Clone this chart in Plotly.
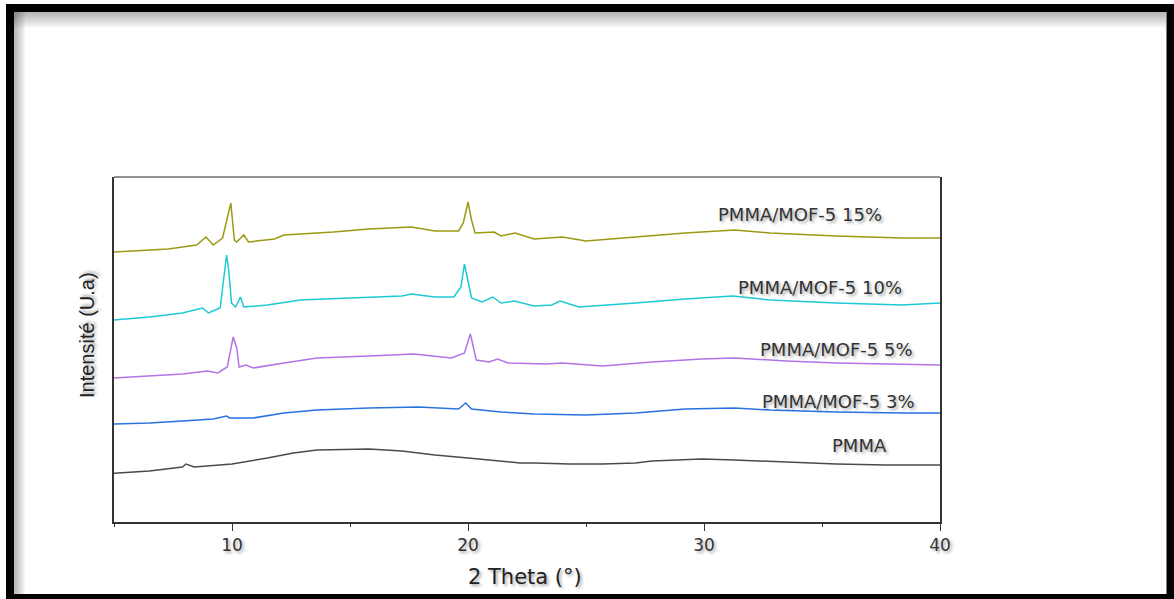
import plotly.graph_objects as go

# ---------------- data ----------------
pmma_x = [5.0, 6.5, 7.9, 8.05, 8.4, 10.0, 11.5, 12.6, 13.6, 15.8, 17.2, 18.6, 20.0, 21.4,
          22.2, 22.8, 24.3, 25.7, 27.1, 27.8, 29.9, 31.3, 33.5, 35.6, 37.7, 40.0]
pmma_y = [48.7, 51, 55, 58, 55, 58, 64, 69, 72, 73, 71, 67, 64, 61,
          59, 59, 58, 58, 59, 61, 63, 62, 60, 58, 57, 57]

m3_x = [5.0, 6.5, 7.9, 9.2, 9.77, 9.9, 10.9, 12.2, 13.6, 15.8, 17.9, 19.6, 19.9, 20.15,
        21.4, 22.8, 25.0, 27.1, 29.2, 31.3, 32.8, 35.6, 38.4, 40.0]
m3_y = [98, 99, 101, 103, 106, 104, 104, 109, 112, 114, 115, 113, 119, 113,
        110, 108, 107, 109, 113, 114, 112, 110, 109, 109]

m5_x = [5.0, 6.5, 7.9, 8.95, 9.4, 9.8, 10.05, 10.2, 10.3, 10.6, 10.9, 12.2, 13.6, 15.8,
        17.7, 19.3, 19.85, 20.1, 20.25, 20.35, 20.9, 21.25, 21.7, 23.3, 24.0, 25.7,
        27.8, 29.9, 31.3, 33.5, 35.6, 37.7, 40.0]
m5_y = [144, 146, 148, 151, 149, 155, 185, 174, 155, 157, 154, 159, 164, 166,
        168, 164, 169, 188, 172, 162, 160, 163, 159, 158, 159, 156,
        160, 163, 164, 161, 159, 158, 157]

m10_x = [5.0, 6.5, 7.9, 8.5, 8.75, 9.0, 9.5, 9.77, 9.86, 9.98, 10.15, 10.36, 10.5, 11.5,
         12.9, 15.0, 17.2, 17.6, 18.6, 19.4, 19.7, 19.85, 20.0, 20.15, 20.6, 21.05,
         21.4, 21.97, 22.8, 23.55, 23.9, 24.7, 27.1, 29.2, 31.2, 32.8, 35.6, 38.4, 40.0]
m10_y = [202, 205, 209, 212, 214, 209, 214, 267, 252, 219, 215, 225, 215, 217,
         222, 224, 226, 228, 225, 225, 235, 258, 242, 224, 220, 225,
         219, 221, 216, 217, 221, 215, 219, 223, 226, 222, 219, 217, 219]

m15_x = [5.0, 6.5, 7.3, 8.5, 8.9, 9.2, 9.6, 9.95, 10.1, 10.2, 10.5, 10.7, 11.8, 12.2,
         14.3, 15.8, 17.6, 18.6, 19.6, 19.8, 20.0, 20.15, 20.3, 21.1, 21.4, 22.0,
         22.8, 24.0, 25.0, 27.1, 29.2, 31.3, 32.8, 35.6, 38.4, 40.0]
m15_y = [270, 272, 273, 277, 285, 277, 284, 319, 282, 280, 287, 280, 283, 287,
         290, 293, 295, 291, 291, 299, 320, 302, 289, 290, 286, 289,
         283, 285, 281, 285, 289, 292, 289, 286, 284, 284]

series_names = ["PMMA", "PMMA/MOF-5 3%", "PMMA/MOF-5 5%", "PMMA/MOF-5 10%", "PMMA/MOF-5 15%"]
series_x = [pmma_x, m3_x, m5_x, m10_x, m15_x]
series_y = [pmma_y, m3_y, m5_y, m10_y, m15_y]
series_colors = ["#4a4a4a", "#2a72e0", "#b473e6", "#1ccad4", "#9c9a12"]

# label anchor points (data coords)
label_x = [36.6, 35.7, 35.6, 34.9, 34.05]
label_y = [77, 121, 173, 235, 308]

x_ticks = [10, 20, 30, 40]
x_title = "2 Theta (°)"
y_title = "Intensité (U.a)"

# ---------------- layout geometry ----------------
W, H = 1174, 599
L, R, T, B = 114, 940, 177, 522


def px2x(px):
    return (px - L) / (R - L)


def py2y(py):
    return (B - py) / (B - T)


fig = go.Figure()
for name, xs, ys, c in zip(series_names, series_x, series_y, series_colors):
    fig.add_trace(go.Scatter(x=xs, y=ys, mode="lines", name=name,
                             line=dict(color=c, width=1.5), showlegend=False))

txt_shadow = "2px 2px 3px rgba(0,0,0,0.35)"
annotations = []
for name, lx, ly in zip(series_names, label_x, label_y):
    annotations.append(dict(x=lx, y=ly, xref="x", yref="y", text=name, showarrow=False,
                            xanchor="center", yanchor="middle",
                            font=dict(family="DejaVu Sans", size=18, color="#333333",
                                      shadow=txt_shadow)))
annotations.append(dict(x=px2x(525), y=py2y(577), xref="paper", yref="paper", text=x_title,
                        showarrow=False, xanchor="center", yanchor="middle",
                        font=dict(family="DejaVu Sans", size=21, color="#222222",
                                  shadow=txt_shadow)))
annotations.append(dict(x=px2x(87), y=py2y(335), xref="paper", yref="paper", text=y_title,
                        showarrow=False, xanchor="center", yanchor="middle", textangle=-90,
                        font=dict(family="Liberation Sans", size=20, color="#222222",
                                  shadow=txt_shadow)))

shapes = []
# inner soft shadow of the frame (top and left)
for k in range(1, 8):
    shapes.append(dict(type="rect", xref="paper", yref="paper", layer="below",
                       x0=px2x(14), x1=px2x(1166), y0=py2y(12 + 2.2 * k), y1=py2y(12),
                       fillcolor="rgba(0,0,0,0.045)", line=dict(width=0)))
    shapes.append(dict(type="rect", xref="paper", yref="paper", layer="below",
                       x0=px2x(14), x1=px2x(14 + 1.6 * k), y0=py2y(594), y1=py2y(12),
                       fillcolor="rgba(0,0,0,0.045)", line=dict(width=0)))
# black frame
frame = [(6, 14, 4, 599), (6, 1174, 4, 12), (1166.5, 1174, 4, 599), (6, 1174, 594, 599)]
for x0, x1, y0, y1 in frame:
    shapes.append(dict(type="rect", xref="paper", yref="paper", layer="above",
                       x0=px2x(x0), x1=px2x(x1), y0=py2y(y1), y1=py2y(y0),
                       fillcolor="black", line=dict(width=0)))
# top border of plot box (light)
shapes.append(dict(type="line", xref="paper", yref="paper", x0=0, x1=1, y0=1, y1=1,
                   line=dict(color="#6e6e6e", width=1.5)))

fig.update_layout(
    width=W, height=H,
    margin=dict(l=L, r=W - R, t=T, b=H - B, autoexpand=False),
    paper_bgcolor="white", plot_bgcolor="white",
    annotations=annotations, shapes=shapes,
    xaxis=dict(range=[5, 40], tickvals=x_ticks, ticks="outside", ticklen=7, tickwidth=1.3,
               tickcolor="#333333", showline=True, linecolor="#333333", linewidth=1.5,
               showgrid=False, zeroline=False,
               tickfont=dict(family="DejaVu Sans", size=17, color="#333333", shadow=txt_shadow),
               minor=dict(dtick=5, tick0=0, ticks="outside", ticklen=3, tickcolor="#333333",
                          tickwidth=1.2, showgrid=False)),
    yaxis=dict(range=[0, 345], showticklabels=False, ticks="", showline=True, mirror=True,
               linecolor="#333333", linewidth=1.5, showgrid=False, zeroline=False),
)

fig.write_html("out.html", config={"displayModeBar": False},
               post_script="document.body.style.margin='0';document.body.style.padding='0';"
                           "document.body.style.overflow='hidden';")
